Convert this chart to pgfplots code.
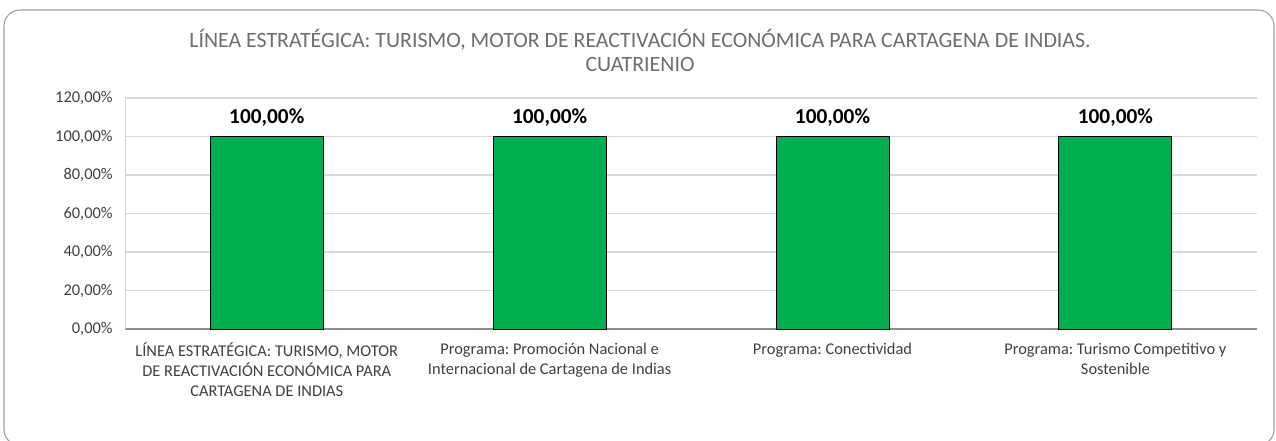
\documentclass[border=0pt]{standalone}
\usepackage{fontspec}
\setmainfont{Carlito}
\usepackage{pgfplots}
\pgfplotsset{compat=1.18}
\frenchspacing

\definecolor{barG}{HTML}{00B050}
\definecolor{titleG}{HTML}{6E6E6E}
\definecolor{labG}{HTML}{404040}
\definecolor{gridG}{HTML}{D9D9D9}
\definecolor{axG}{HTML}{8C8C8C}

\begin{document}
\begin{tikzpicture}[x=1pt,y=1pt]
% page = 1276x440 px at 0.75pt per px
\path[use as bounding box] (0,0) rectangle (957,330);
\draw[color=gray!75, line width=0.8pt, rounded corners=12pt] (3,-4) rectangle (955.5,322.5);
\node[font=\fontsize{16.4}{18}\selectfont, text=titleG, align=center] at (480,292.5)
  {LÍNEA ESTRATÉGICA: TURISMO, MOTOR DE REACTIVACIÓN ECONÓMICA PARA CARTAGENA DE INDIAS.\\CUATRIENIO};

\begin{axis}[
    at={(94pt,83.25pt)}, anchor=south west,
    scale only axis, width=848.6pt, height=173.25pt,
    ybar, bar width=84.75pt,
    xmin=-0.5, xmax=3.5, ymin=0, ymax=120,
    ytick={0,20,...,120},
    xtick=data,
    xticklabels={{LÍNEA ESTRATÉGICA: TURISMO, MOTOR\\DE REACTIVACIÓN ECONÓMICA PARA\\CARTAGENA DE INDIAS},
                 {Programa: Promoción Nacional e\\Internacional de Cartagena de Indias},
                 {Programa: Conectividad},
                 {Programa: Turismo Competitivo y\\Sostenible}},
    xticklabel style={align=center, font=\fontsize{12.3}{15}\selectfont, text=labG, anchor=north, yshift=-7pt},
    yticklabel={\pgfmathprintnumber[fixed,fixed zerofill,precision=2,use comma]{\tick}\%},
    yticklabel style={font=\fontsize{12.3}{14}\selectfont, text=labG, xshift=-6pt},
    /pgf/number format/assume math mode=true,
    major tick length=0pt,
    axis x line=bottom, axis y line=left,
    x axis line style={-, draw=axG, line width=0.8pt},
    y axis line style={-, draw=gridG, line width=0.8pt},
    ymajorgrids, grid style={draw=gridG, line width=0.8pt},
    nodes near coords={\pgfmathprintnumber[fixed,fixed zerofill,precision=2,use comma]{\pgfplotspointmeta}\%},
    nodes near coords style={font=\bfseries\fontsize{16}{18}\selectfont, text=black, anchor=south, yshift=4pt},
]
\addplot[fill=barG, draw=black, line width=0.6pt] coordinates {(0,100) (1,100) (2,100) (3,100)};
\end{axis}
\end{tikzpicture}
\end{document}
